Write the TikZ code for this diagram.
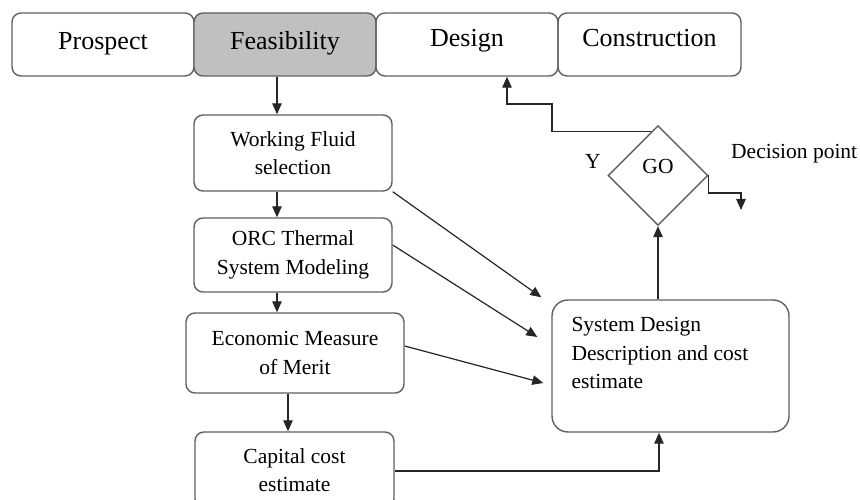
\documentclass[tikz,border=0pt]{standalone}
\usepackage{fontspec}
\setmainfont{Liberation Serif}
\usetikzlibrary{arrows.meta,calc,shapes.geometric}
\definecolor{boxgray}{HTML}{606060}
\definecolor{linegray}{HTML}{262626}
\definecolor{phasefill}{HTML}{C0C0C0}
\begin{document}
\begin{tikzpicture}[x=1pt,y=-1pt,
  box/.style={draw=boxgray, line width=1.4pt, rounded corners=9pt, inner sep=0pt, align=center},
  phase/.style={box, minimum height=63pt, font=\fontsize{26}{30}\selectfont},
  task/.style={box, font=\fontsize{21.5}{28.5}\selectfont},
  conn/.style={draw=linegray, line width=1.2pt},
  arr/.style={conn, -{Triangle[length=11pt,width=9.5pt]}},
  lbl/.style={inner sep=0pt, font=\fontsize{21.5}{28.5}\selectfont}
]
\fill[white] (0,0) rectangle (860,500);
\useasboundingbox (0,0) rectangle (860,500);

% project phases
\node[phase, minimum width=182pt, text height=18pt, text depth=7pt] (prospect) at (103,44.5) {Prospect};
\node[phase, fill=phasefill, minimum width=182pt, text height=18pt, text depth=7pt] (feas) at (285,44.5) {Feasibility};
\node[phase, minimum width=182pt, text height=18pt, text depth=14pt] (design) at (467,44.5) {Design};
\node[phase, minimum width=183pt, text height=18pt, text depth=13pt] (constr) at (649.5,44.5) {Construction};

% feasibility tasks
\node[task, minimum width=198pt, minimum height=76pt] (wf) at (293,153) {Working Fluid\\selection};
\node[task, minimum width=198pt, minimum height=74pt] (orc) at (293,255) {ORC Thermal\\System Modeling};
\node[task, minimum width=218pt, minimum height=80pt] (econ) at (295,353) {Economic Measure\\of Merit};
\node[task, minimum width=199pt, minimum height=76pt] (cap) at (294.5,470) {Capital cost\\estimate};

% system design summary
\node[box, rounded corners=16pt, minimum width=237pt, minimum height=132pt] (sd) at (670.5,366) {};
\node[lbl, anchor=north west, align=left] (sdtext) at ($(sd.north west)+(20,18)$) {System Design\\Description and cost\\estimate};

% decision diamond
\node[diamond, draw=boxgray, line width=1.4pt, minimum width=100pt, minimum height=100pt, inner sep=0pt,
      text height=14pt, text depth=17pt, font=\fontsize{21.5}{26}\selectfont] (go) at (658,175.5) {GO};
\node[lbl, anchor=base] (ylbl) at (593,169) {Y};
\node[lbl, anchor=base west] (dplbl) at (731,159) {Decision point};

% vertical chain
\coordinate (xa) at (277,0);
\coordinate (xb) at (288,0);
\draw[arr] (feas.south -| xa) -- (wf.north -| xa);
\draw[arr] (wf.south -| xa) -- (orc.north -| xa);
\draw[arr] (orc.south -| xa) -- (econ.north -| xa);
\draw[arr] (econ.south -| xb) -- (cap.north -| xb);

% inputs to the system design
\draw[arr] (wf.south east) -- ($(sd.north west)+(-10,-2)$);
\draw[arr] ($(orc.east)+(0,-10)$) -- ($(sd.west)+(-14,-29)$);
\draw[arr] ($(econ.east)+(0,-7)$) -- ($(sd.west)+(-8,17)$);
\coordinate (xc) at (659,0);
\coordinate (cy) at (0,471);
\draw[arr] (cap.east |- cy) -| (sd.south -| xc);

% decision flow
\draw[arr] (sd.north -| go.south) -- (go.south);
\coordinate (gostart) at ($(go.north)!0.14!(go.west)$);
\coordinate (bend) at (552,104);
\coordinate (xd) at (507,0);
\draw[arr] (gostart) -| (bend) -| (design.south -| xd);
\coordinate (nogo) at (741,210);
\draw[arr] (go.east) |- ($(nogo)+(0,-17)$) -- (nogo);
\end{tikzpicture}
\end{document}
